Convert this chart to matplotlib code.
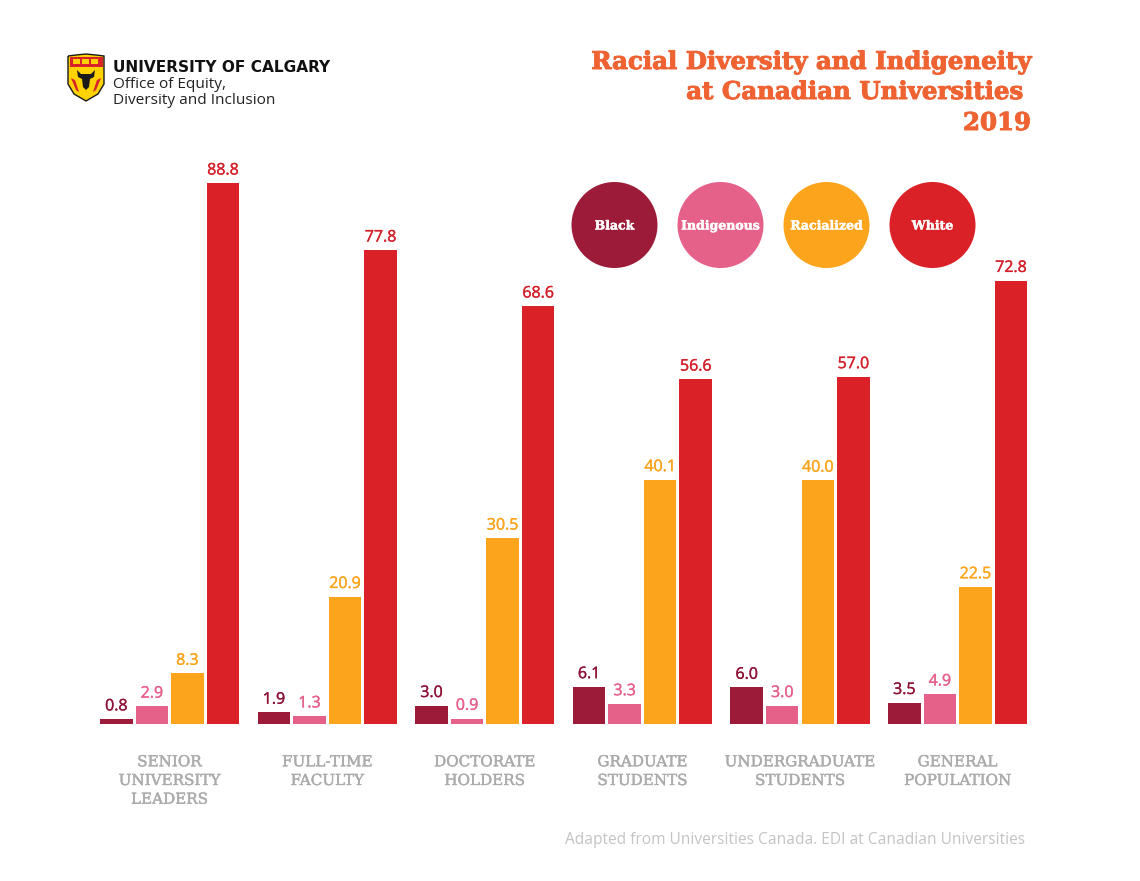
import matplotlib
matplotlib.use("Agg")
import matplotlib.pyplot as plt
import matplotlib.patheffects as pe
from matplotlib.patches import Circle, Polygon, Rectangle
from matplotlib.path import Path
from matplotlib.patches import PathPatch

W, H = 1140, 881
categories = ["SENIOR\nUNIVERSITY\nLEADERS", "FULL-TIME\nFACULTY", "DOCTORATE\nHOLDERS",
              "GRADUATE\nSTUDENTS", "UNDERGRADUATE\nSTUDENTS", "GENERAL\nPOPULATION"]
series_names = ["Black", "Indigenous", "Racialized", "White"]
black = [0.8, 1.9, 3.0, 6.1, 6.0, 3.5]
indigenous = [2.9, 1.3, 0.9, 3.3, 3.0, 4.9]
racialized = [8.3, 20.9, 30.5, 40.1, 40.0, 22.5]
white = [88.8, 77.8, 68.6, 56.6, 57.0, 72.8]
colors = ["#9B1B38", "#E6618A", "#FBA41C", "#DA2128"]
label_colors = ["#8E1235", "#E6618A", "#FBA41C", "#D4202A"]
title_lines = ["Racial Diversity and Indigeneity", "at Canadian Universities ", "2019"]
source = "Adapted from Universities Canada. EDI at Canadian Universities"

SLAB = ["DejaVu Serif"]
SANS = ["Open Sans"]


def thick(width, color):
    return [pe.withStroke(linewidth=width, foreground=color)]


fig = plt.figure(figsize=(W / 100, H / 100), dpi=100, facecolor="white")

pitch_group = 157.6
c0 = 169.6
L, R, B, T = 60, 1060, 724, 150
ax = fig.add_axes([L / W, 1 - B / H, (R - L) / W, (B - T) / H])
ax.set_xlim((L - c0) / pitch_group, (R - c0) / pitch_group)
ax.set_ylim(0, (B - T) / 6.09)
ax.axis("off")

step = 35.55 / pitch_group
bw = 32.5 / pitch_group
for s, vals in enumerate([black, indigenous, racialized, white]):
    for g, v in enumerate(vals):
        x = g + (s - 1.5) * step
        ax.bar(x, v, width=bw, color=colors[s], linewidth=0)
        ax.annotate(f"{v:.1f}", (x, v), xytext=(0, 3.4), textcoords="offset points",
                    ha="center", va="bottom", fontsize=11.5, color=label_colors[s],
                    family=SANS, path_effects=thick(0.25, label_colors[s]))

for g, c in enumerate(categories):
    ax.annotate(c, (g, 0), xytext=(0, -22.5), textcoords="offset points", ha="center", va="top",
                fontsize=10.9, color="#ABABAB", family=SLAB, linespacing=1.43, annotation_clip=False,
                path_effects=thick(0.3, "#ABABAB"))

ov = fig.add_axes([0, 0, 1, 1], facecolor="none")
ov.set_xlim(0, W)
ov.set_ylim(H, 0)
ov.axis("off")

for cx, col, name in zip([614.5, 720.5, 826.5, 932.5], colors, series_names):
    ov.add_patch(Circle((cx, 225), 43, color=col, linewidth=0))
    ov.text(cx, 226, name, ha="center", va="center", color="white", fontsize=9.0,
            family=SLAB, fontweight="bold", path_effects=thick(0.3, "white"))

for y, t in zip([62, 92, 123], title_lines):
    ov.text(1031, y, t, ha="right", va="center", color="#EF6333", fontsize=17.6,
            family=SLAB, fontweight="bold", path_effects=thick(0.7, "#EF6333"))

ov.text(1025, 840, source, ha="right", va="center", color="#C4C4C4", fontsize=11.2, family=SANS)

ov.text(113, 67, "UNIVERSITY OF CALGARY", ha="left", va="center", color="#111111",
        fontsize=11.1, family=["DejaVu Sans"], fontweight="bold")
ov.text(113, 84, "Office of Equity,", ha="left", va="center", color="#222222", fontsize=11.1, family=SANS)
ov.text(113, 100, "Diversity and Inclusion", ha="left", va="center", color="#222222", fontsize=11.1, family=SANS)

shield = Path([(68, 56), (76, 55), (86, 54), (96, 55), (104, 56), (104, 84), (98, 94), (86, 101),
               (74, 94), (68, 84), (68, 56)])
ov.add_patch(PathPatch(shield, fc="#FFD200", ec="#1A1A1A", lw=1.0))
ov.add_patch(Polygon([(69.5, 57), (102.5, 57), (102.5, 67), (69.5, 67)], fc="#D8232A", ec="none"))
for x in (73, 82, 91):
    ov.add_patch(Rectangle((x, 59), 6.5, 5, fc="#FFD200", ec="none"))
ov.add_patch(Polygon([(77, 70), (81, 74), (91, 74), (95, 70), (94, 77), (90, 79), (89, 87), (86, 90),
                      (83, 87), (82, 79), (78, 77)], fc="#1A1A1A", ec="none"))
ov.add_patch(Polygon([(71, 78), (75, 80), (79, 92), (76, 90)], fc="#D8232A", ec="none"))
ov.add_patch(Polygon([(101, 78), (97, 80), (93, 92), (96, 90)], fc="#D8232A", ec="none"))

fig.savefig("out.png", dpi=100, facecolor="white")
